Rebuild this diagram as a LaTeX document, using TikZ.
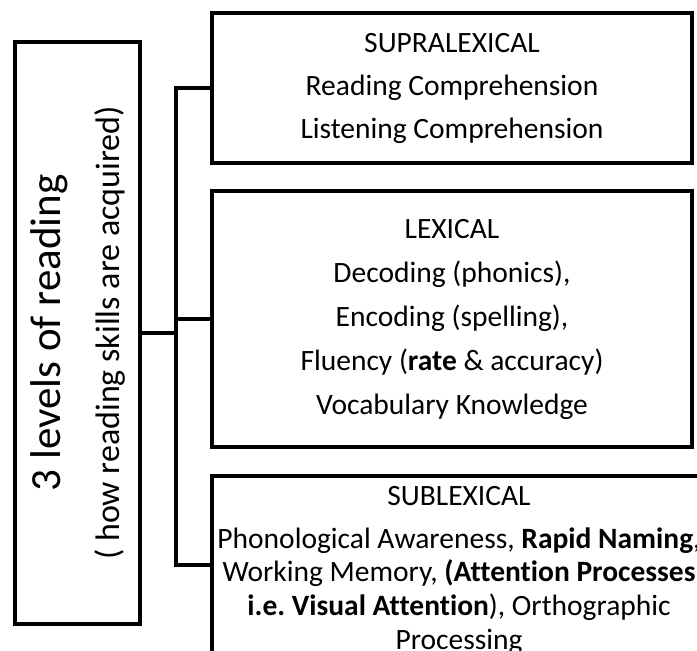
\documentclass[tikz,border=0pt]{standalone}
\usepackage{fontspec}
\setmainfont{Carlito}[Ligatures=NoCommon]
\usepackage{tikz}

\tikzset{
	levelbox/.style={draw=black, line width=4pt, align=center, inner sep=0pt,
		font=\fontsize{29.5}{43}\selectfont},
	branch/.style={draw=black, line width=4pt}
}

\begin{document}
\begin{tikzpicture}[x=1pt,y=-1pt]
	\clip (0,0) rectangle (697,651);
	\useasboundingbox (0,0) rectangle (697,651);
	
	% main box (rotated text)
	\node[levelbox, rotate=90, minimum width=582, minimum height=125,
		font=\fontsize{34}{59}\selectfont] (levels) at (77.5,333)
		{{\fontsize{43}{59}\selectfont 3 levels of reading}\\( how reading skills are acquired)};
	
	% the three levels
	\node[levelbox, minimum width=480, minimum height=150] (supra) at (452,88)
		{SUPRALEXICAL\\Reading Comprehension\\Listening Comprehension};
	\node[levelbox, minimum width=480, minimum height=256, font=\fontsize{29.5}{44}\selectfont] (lex) at (452,319)
		{LEXICAL\\Decoding (phonics),\\Encoding (spelling),\\Fluency (\textbf{rate} \& accuracy)\\Vocabulary Knowledge};
	\node[levelbox, minimum width=494, minimum height=176, font=\fontsize{29.5}{33.7}\selectfont] (sub) at (459,565)
		{\rule{0pt}{30pt}SUBLEXICAL\\[9pt]Phonological Awareness, \textbf{Rapid Naming},\\Working Memory, \textbf{(Attention Processes}\\\textbf{i.e.\ Visual Attention}), Orthographic\\Processing};
	
	% connectors
	\coordinate (trunk) at (176,333);
	\draw[branch] (levels.south) -- (trunk);
	\draw[branch] (supra.west) -| (trunk) |- (sub.west);
	\draw[branch] (lex.west) -- (lex.west -| trunk);
\end{tikzpicture}
\end{document}
